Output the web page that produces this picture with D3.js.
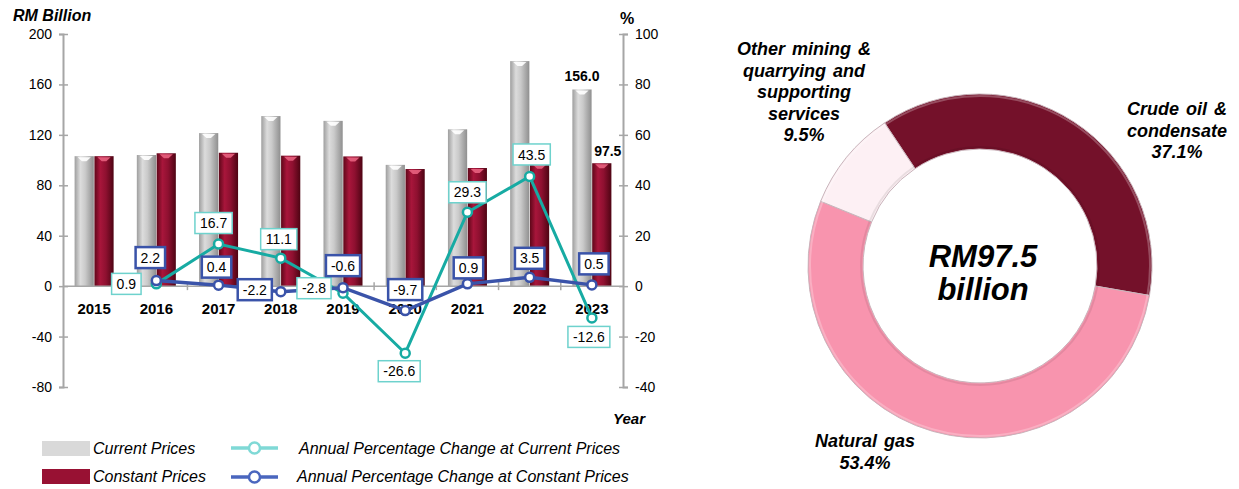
<!DOCTYPE html>
<html>
<head>
<meta charset="utf-8">
<script src="https://cdn.jsdelivr.net/npm/d3@7"></script>
<style>
  body { margin: 0; background: #fff; }
  svg { font-family: "Liberation Sans", Arial, sans-serif; }
</style>
</head>
<body>
<svg id="chart" width="1239" height="489"></svg>
<script>
// ---- data ----
var years = ["2015", "2016", "2017", "2018", "2019", "2020", "2021", "2022", "2023"];
var currentPrices = [103.1, 104.0, 121.4, 134.9, 131.1, 96.2, 124.4, 178.5, 156.0];
var constantPrices = [103.1, 105.4, 105.8, 103.5, 102.9, 92.9, 93.7, 97.0, 97.5];
var pctYears = ["2016", "2017", "2018", "2019", "2020", "2021", "2022", "2023"];
var pctCurrent = [0.9, 16.7, 11.1, -2.8, -26.6, 29.3, 43.5, -12.6];
var pctConstant = [2.2, 0.4, -2.2, -0.6, -9.7, 0.9, 3.5, 0.5];
var leftTicks = [200, 160, 120, 80, 40, 0, -40, -80];
var rightTicks = [100, 80, 60, 40, 20, 0, -20, -40];

var shareNames = ["Crude oil & condensate", "Natural gas", "Other mining & quarrying and supporting services"];
var shareValues = [37.1, 53.4, 9.5];
var totalText = ["RM97.5", "billion"];

// label placement for the percentage boxes [dx, dy] from the point
var pctCurrentOffset = [[-30, 0], [-5, -21], [-2, -19], [-29, -5], [-6, 18], [0, -20], [2, -22], [-3, 19]];
var pctConstantOffset = [[-6, -23], [-2, -18], [-26, -2], [0, -22], [0, -21], [1, -16], [0, -19], [2, -21]];

var svg = d3.select("#chart");
var defs = svg.append("defs");

// ---- scales ----
var x0 = d3.scaleBand().domain(years).range([63, 623]).paddingInner(0.373).paddingOuter(0.1865);
var x1 = d3.scaleBand().domain(["current", "constant"]).range([0, x0.bandwidth()]).paddingInner(0.03);
var yL = d3.scaleLinear().domain([-80, 200]).range([387, 34]);
var yR = d3.scaleLinear().domain([-40, 100]).range([387, 34]);
var cx = function (yr) { return x0(yr) + x0.bandwidth() / 2; };
var plain = function (d) { return String(d); }; // hyphen minus like the original

// cylinder-ish gradients for bars
function barGradient(id, stops) {
    var g = defs.append("linearGradient").attr("id", id).attr("x1", "0%").attr("x2", "100%");
    stops.forEach(function (s) { g.append("stop").attr("offset", s[0]).attr("stop-color", s[1]); });
}
barGradient("gGray", [["0%", "#9e9e9e"], ["30%", "#dcdcdc"], ["55%", "#cacaca"], ["100%", "#8f8f8f"]]);
barGradient("gRed", [["0%", "#5e0719"], ["30%", "#a8163b"], ["60%", "#8e1030"], ["100%", "#4e0413"]]);

// ---- axes ----
var axisColor = "#a6a6a6";
var gL = svg.append("g").attr("transform", "translate(63,0)")
    .call(d3.axisLeft(yL).tickValues(leftTicks).tickFormat(plain).tickSize(4).tickPadding(7));
var gR = svg.append("g").attr("transform", "translate(623,0)")
    .call(d3.axisRight(yR).tickValues(rightTicks).tickFormat(plain).tickSize(5).tickPadding(7));
[gL, gR].forEach(function (g) {
    g.select(".domain").attr("stroke", axisColor).attr("stroke-width", 2);
    g.selectAll(".tick line").attr("stroke", axisColor).attr("stroke-width", 1.5);
    g.selectAll(".tick text").attr("font-size", 14).attr("fill", "#000")
        .attr("font-family", "'Liberation Sans', Arial, sans-serif");
});
gL.selectAll(".tick line").attr("x1", 5);
gR.selectAll(".tick line").attr("x1", -4);

// ---- bars ----
var barG = svg.append("g");
var series = [
    {key: "current", vals: currentPrices, fill: "url(#gGray)", cap: "#ffffff"},
    {key: "constant", vals: constantPrices, fill: "url(#gRed)", cap: "#e8627f"}
];
series.forEach(function (s) {
    var g = barG.selectAll(".bar-" + s.key).data(years).enter().append("g");
    g.append("rect")
        .attr("x", function (d) { return x0(d) + x1(s.key); })
        .attr("width", x1.bandwidth())
        .attr("y", function (d, i) { return yL(s.vals[i]); })
        .attr("height", function (d, i) { return yL(0) - yL(s.vals[i]); })
        .attr("fill", s.fill);
    // small top highlight
    g.append("path")
        .attr("d", function (d, i) {
            var bx = x0(d) + x1(s.key), w = x1.bandwidth(), t = yL(s.vals[i]);
            return "M" + (bx + 3) + "," + (t + 1) + "L" + (bx + w - 3) + "," + (t + 1) +
                "L" + (bx + w * 0.62) + "," + (t + 5) + "L" + (bx + w * 0.38) + "," + (t + 5) + "Z";
        })
        .attr("fill", s.cap).attr("opacity", 0.9);
});

// value labels on the 2023 bars
var last = years.length - 1;
svg.append("text")
    .attr("x", x0(years[last]) + x1("current") + x1.bandwidth() / 2)
    .attr("y", yL(currentPrices[last]) - 8)
    .attr("text-anchor", "middle").attr("font-weight", "bold").attr("font-size", 14)
    .text(currentPrices[last].toFixed(1));
svg.append("text")
    .attr("x", x0(years[last]) + x1("constant") + x1.bandwidth() / 2 + 6)
    .attr("y", yL(constantPrices[last]) - 7)
    .attr("text-anchor", "middle").attr("font-weight", "bold").attr("font-size", 14)
    .text(constantPrices[last].toFixed(1));

// x axis line at zero with category separators
svg.append("line").attr("x1", 63).attr("x2", 623).attr("y1", yL(0)).attr("y2", yL(0))
    .attr("stroke", axisColor).attr("stroke-width", 1.5);
svg.selectAll(".sep").data(years.slice(1)).enter().append("line")
    .attr("x1", function (d) { return x0(d) - (x0.step() - x0.bandwidth()) / 2; })
    .attr("x2", function (d) { return x0(d) - (x0.step() - x0.bandwidth()) / 2; })
    .attr("y1", yL(0) - 4).attr("y2", yL(0) + 4)
    .attr("stroke", axisColor).attr("stroke-width", 1.5);

// year labels
svg.selectAll(".yr").data(years).enter().append("text")
    .attr("x", cx).attr("y", 314)
    .attr("text-anchor", "middle").attr("font-weight", "bold").attr("font-size", 15)
    .text(function (d) { return d; });

// axis titles
svg.append("text").attr("x", 13).attr("y", 21).attr("font-weight", "bold").attr("font-style", "italic")
    .attr("font-size", 16).text("RM Billion");
svg.append("text").attr("x", 627).attr("y", 24).attr("text-anchor", "middle").attr("font-weight", "bold")
    .attr("font-size", 16).text("%");
svg.append("text").attr("x", 613).attr("y", 424).attr("font-weight", "bold").attr("font-style", "italic")
    .attr("font-size", 15).text("Year");

// ---- percentage lines ----
var teal = "#17aba3", blue = "#3a53a9";
var line = d3.line().x(function (d) { return cx(d.yr); }).y(function (d) { return yR(d.v); });
function pctData(vals) { return pctYears.map(function (yr, i) { return {yr: yr, v: vals[i]}; }); }
var lineSeries = [
    {vals: pctCurrent, color: teal, width: 3, box: "#6ed2cd", boxW: 1.5, off: pctCurrentOffset},
    {vals: pctConstant, color: blue, width: 3.5, box: "#3a53a9", boxW: 2.5, off: pctConstantOffset}
];
lineSeries.forEach(function (s) {
    svg.append("path").datum(pctData(s.vals)).attr("d", line)
        .attr("fill", "none").attr("stroke", s.color).attr("stroke-width", s.width);
});
lineSeries.forEach(function (s) {
    svg.selectAll(null).data(pctData(s.vals)).enter().append("circle")
        .attr("cx", function (d) { return cx(d.yr); })
        .attr("cy", function (d) { return yR(d.v); })
        .attr("r", 4.5).attr("fill", "#fff").attr("stroke", s.color).attr("stroke-width", 2.5);
});
lineSeries.forEach(function (s) {
    var lab = svg.selectAll(null).data(pctData(s.vals)).enter().append("g")
        .attr("transform", function (d, i) {
            return "translate(" + (cx(d.yr) + s.off[i][0]) + "," + (yR(d.v) + s.off[i][1]) + ")";
        });
    lab.append("rect").attr("fill", "#fff").attr("stroke", s.box).attr("stroke-width", s.boxW);
    lab.append("text").attr("text-anchor", "middle").attr("dy", "0.36em").attr("font-size", 14)
        .text(function (d) { return d.v.toFixed(1); })
        .each(function () {
            var w = this.getComputedTextLength() + 10;
            d3.select(this.parentNode).select("rect")
                .attr("x", -w / 2).attr("y", -10.5).attr("width", w).attr("height", 21);
        });
});

// ---- legend ----
var leg = svg.append("g");
leg.append("rect").attr("x", 42).attr("y", 441).attr("width", 48).attr("height", 15).attr("fill", "#d9d9d9");
leg.append("rect").attr("x", 42).attr("y", 469).attr("width", 48).attr("height", 15).attr("fill", "#981133");
leg.append("text").attr("x", 93).attr("y", 454).attr("font-style", "italic").attr("font-size", 16).text("Current Prices");
leg.append("text").attr("x", 93).attr("y", 482).attr("font-style", "italic").attr("font-size", 16).text("Constant Prices");
[{y: 448, c: "#7fd9d6", t: "Annual Percentage Change at Current Prices", tx: 299, ty: 454},
 {y: 477, c: "#4a66be", t: "Annual Percentage Change at Constant Prices", tx: 297, ty: 482}].forEach(function (l) {
    leg.append("line").attr("x1", 231).attr("x2", 278).attr("y1", l.y).attr("y2", l.y)
        .attr("stroke", l.c).attr("stroke-width", 3.5);
    leg.append("circle").attr("cx", 254.5).attr("cy", l.y).attr("r", 5.5)
        .attr("fill", "#fff").attr("stroke", l.c).attr("stroke-width", 2.5);
    leg.append("text").attr("x", l.tx).attr("y", l.ty).attr("font-style", "italic").attr("font-size", 16).text(l.t);
});

// ---- donut ----
var dcx = 980, dcy = 266, rOut = 172, rIn = 117;
var start = -33.7 * Math.PI / 180;
var pie = d3.pie().sort(null).startAngle(start).endAngle(start + 2 * Math.PI);
var arc = d3.arc().innerRadius(rIn).outerRadius(rOut);
var sliceColors = ["#74112a", "#f894ae", "#fdf0f4"];
var dg = svg.append("g").attr("transform", "translate(" + dcx + "," + dcy + ")");
dg.selectAll(".slice").data(pie(shareValues)).enter().append("path")
    .attr("d", arc)
    .attr("fill", function (d, i) { return sliceColors[i]; })
    .attr("stroke", "#c9b4bb").attr("stroke-width", 1);
// bevel hints
dg.append("circle").attr("r", rOut - 2).attr("fill", "none").attr("stroke", "#fff").attr("stroke-opacity", 0.25).attr("stroke-width", 2);
dg.append("circle").attr("r", rIn + 2).attr("fill", "none").attr("stroke", "#000").attr("stroke-opacity", 0.08).attr("stroke-width", 2);

dg.selectAll(".ctr").data(totalText).enter().append("text")
    .attr("x", 3).attr("y", function (d, i) { return i === 0 ? 1 : 34; })
    .attr("text-anchor", "middle").attr("font-weight", "bold").attr("font-style", "italic")
    .attr("font-size", 31).text(function (d) { return d; });

// slice labels
var sliceLabels = [
    {lines: ["Crude oil &", "condensate", shareValues[0].toFixed(1) + "%"], x: 1177, y: 115},
    {lines: ["Natural gas", shareValues[1].toFixed(1) + "%"], x: 865, y: 447},
    {lines: ["Other mining &", "quarrying and", "supporting", "services", shareValues[2].toFixed(1) + "%"], x: 804, y: 55}
];
sliceLabels.forEach(function (l) {
    var t = svg.append("text").attr("text-anchor", "middle").attr("font-weight", "bold")
        .attr("font-style", "italic").attr("font-size", 18).attr("word-spacing", 2);
    l.lines.forEach(function (s, i) {
        t.append("tspan").attr("x", l.x).attr("y", l.y + i * 21.5).text(s);
    });
});
</script>
</body>
</html>
